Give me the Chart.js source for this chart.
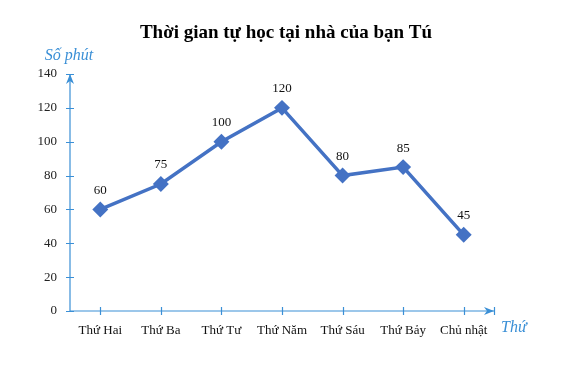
<!DOCTYPE html>
<html>
<head>
<meta charset="utf-8">
<script src="https://cdn.jsdelivr.net/npm/chart.js@4/dist/chart.umd.min.js"></script>
<style>
  html, body { margin: 0; padding: 0; background: #fff; }
  #wrap { width: 570px; height: 378px; position: relative; }
</style>
</head>
<body>
<div id="wrap"><canvas id="chart"></canvas></div>
<script>
// Chart data
const days = ['Thứ Hai', 'Thứ Ba', 'Thứ Tư', 'Thứ Năm', 'Thứ Sáu', 'Thứ Bảy', 'Chủ nhật'];
const minutes = [60, 75, 100, 120, 80, 85, 45];
const chartTitle = 'Thời gian tự học tại nhà của bạn Tú';
const yAxisTitle = 'Số phút';
const xAxisTitle = 'Thứ';

const AXIS = '#3a8fd6';
const LINE = '#4472c4';
const SERIF = '"Liberation Serif", "Times New Roman", serif';

// Draws title, axis arrows, crossing ticks, axis names and value labels
const decorPlugin = {
  id: 'decor',
  afterDraw: (chart) => {
    const ctx = chart.ctx;
    const area = chart.chartArea;
    const xs = chart.scales.x;
    const ys = chart.scales.y;

    ctx.save();

    // Title
    ctx.fillStyle = '#000';
    ctx.font = 'bold 19px ' + SERIF;
    ctx.textAlign = 'center';
    ctx.textBaseline = 'middle';
    ctx.fillText(chartTitle, 286, 33);

    // Axis lines
    ctx.strokeStyle = AXIS;
    ctx.fillStyle = AXIS;
    ctx.lineWidth = 1.2;
    ctx.beginPath();
    ctx.moveTo(area.left, area.bottom);
    ctx.lineTo(area.right, area.bottom);
    ctx.moveTo(area.left, area.bottom);
    ctx.lineTo(area.left, area.top);
    ctx.stroke();

    // Y ticks crossing axis
    ctx.beginPath();
    ys.ticks.forEach((t) => {
      const y = Math.round(ys.getPixelForValue(t.value)) + 0.5;
      ctx.moveTo(area.left - 4, y);
      ctx.lineTo(area.left + 4, y);
    });
    // X ticks crossing axis
    days.forEach((d, i) => {
      const x = Math.round(xs.getPixelForValue(i)) + 0.5;
      ctx.moveTo(x, area.bottom - 4);
      ctx.lineTo(x, area.bottom + 4);
    });
    // end bar on x axis
    ctx.moveTo(area.right + 0.5, area.bottom - 4);
    ctx.lineTo(area.right + 0.5, area.bottom + 4);
    ctx.stroke();

    // Arrow heads
    ctx.beginPath();
    ctx.moveTo(area.left, area.top);
    ctx.lineTo(area.left - 4, area.top + 10);
    ctx.lineTo(area.left, area.top + 7);
    ctx.lineTo(area.left + 4, area.top + 10);
    ctx.closePath();
    ctx.fill();
    ctx.beginPath();
    ctx.moveTo(area.right, area.bottom);
    ctx.lineTo(area.right - 10, area.bottom - 4);
    ctx.lineTo(area.right - 7, area.bottom);
    ctx.lineTo(area.right - 10, area.bottom + 4);
    ctx.closePath();
    ctx.fill();

    // Axis names
    ctx.font = 'italic 16px ' + SERIF;
    ctx.textAlign = 'center';
    ctx.fillText(yAxisTitle, area.left - 1, 56);
    ctx.textAlign = 'left';
    ctx.fillText(xAxisTitle, area.right + 7, 328);

    // Value labels above points
    ctx.fillStyle = '#111';
    ctx.font = '13px ' + SERIF;
    ctx.textAlign = 'center';
    chart.getDatasetMeta(0).data.forEach((pt, i) => {
      ctx.fillText(String(minutes[i]), pt.x, pt.y - 19);
    });

    ctx.restore();
  }
};

new Chart(document.getElementById('chart'), {
  type: 'line',
  data: {
    labels: days,
    datasets: [{
      data: minutes,
      borderColor: LINE,
      backgroundColor: LINE,
      borderWidth: 3.5,
      pointStyle: 'rectRot',
      pointRadius: 5.5,
      pointBackgroundColor: LINE,
      pointBorderColor: LINE,
      tension: 0,
      clip: false
    }]
  },
  options: {
    responsive: true,
    maintainAspectRatio: false,
    animation: false,
    layout: { padding: { left: 0, right: 76, top: 74, bottom: 0 } },
    plugins: {
      legend: { display: false },
      tooltip: { enabled: false },
      title: { display: false }
    },
    scales: {
      x: {
        offset: true,
        grid: { display: false, offset: false },
        border: { display: false },
        ticks: {
          color: '#111',
          font: { family: SERIF, size: 13 },
          padding: 4,
          maxRotation: 0,
          autoSkip: false
        },
        afterFit: (s) => { s.height = 67; }
      },
      y: {
        min: 0,
        max: 140,
        grid: { display: false },
        border: { display: false },
        ticks: {
          stepSize: 20,
          color: '#222',
          font: { family: SERIF, size: 13 },
          padding: 5
        },
        afterFit: (s) => { s.width = 70; }
      }
    }
  },
  plugins: [decorPlugin]
});
</script>
</body>
</html>
